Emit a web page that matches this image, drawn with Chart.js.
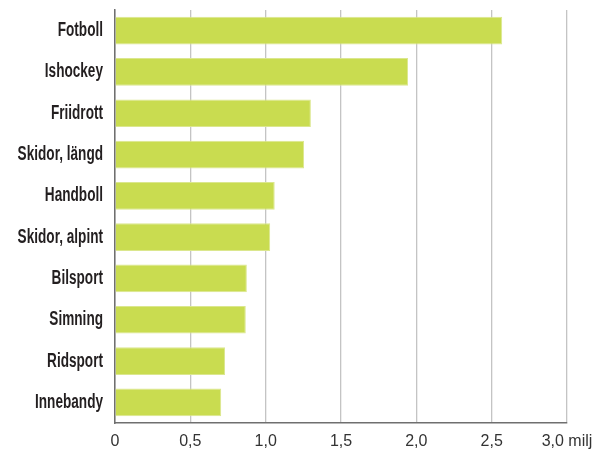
<!DOCTYPE html>
<html>
<head>
<meta charset="utf-8">
<script src="https://cdn.jsdelivr.net/npm/chart.js@4/dist/chart.umd.min.js"></script>
<style>
html,body{margin:0;padding:0;background:#fff;}
#wrap{width:600px;height:451px;}
</style>
</head>
<body>
<div id="wrap"><canvas id="c" width="600" height="451"></canvas></div>
<script>
const categories = ['Fotboll','Ishockey','Friidrott','Skidor, längd','Handboll','Skidor, alpint','Bilsport','Simning','Ridsport','Innebandy'];
const values = [2.57, 1.945, 1.30, 1.255, 1.06, 1.03, 0.875, 0.868, 0.73, 0.705];
const tickLabels = ['0','0,5','1,0','1,5','2,0','2,5','3,0 milj'];

// Draws the category labels of the y scale in a condensed style (no condensed font is installed)
const condensedLabels = {
  id: 'condensedLabels',
  afterDraw(chart) {
    const ctx = chart.ctx;
    const ys = chart.scales.y;
    const sx = 0.68;
    ctx.save();
    ctx.font = "bold 20px 'Liberation Sans', Arial, sans-serif";
    ctx.fillStyle = '#231f20';
    ctx.textAlign = 'right';
    ctx.textBaseline = 'alphabetic';
    chart.data.labels.forEach((lab, i) => {
      const y = ys.getPixelForTick(i);
      ctx.save();
      ctx.translate(ys.right - 12, y + 5.5);
      ctx.scale(sx, 1);
      ctx.fillText(lab, 0, 0);
      ctx.restore();
    });
    ctx.restore();
  }
};

new Chart(document.getElementById('c'), {
  type: 'bar',
  data: {
    labels: categories,
    datasets: [{
      data: values,
      backgroundColor: '#c9dc50',
      borderColor: '#dbe78e',
      borderWidth: 1,
      borderSkipped: 'start',
      barPercentage: 0.67,
      categoryPercentage: 1.0
    }]
  },
  plugins: [condensedLabels],
  options: {
    indexAxis: 'y',
    responsive: false,
    animation: false,
    layout: { padding: { left: 0, right: 33, top: 10, bottom: 0 } },
    plugins: { legend: { display: false }, tooltip: { enabled: false } },
    scales: {
      x: {
        min: 0, max: 3,
        ticks: {
          stepSize: 0.5,
          padding: 9,
          color: '#333',
          font: { family: "'Liberation Sans', Arial, sans-serif", size: 16 },
          maxRotation: 0,
          callback: (v, i) => tickLabels[i]
        },
        grid: { color: '#c4c4c4', lineWidth: 1.3, drawTicks: false },
        border: { display: true, color: '#6f6f6f', width: 1.5 },
        afterFit: s => { s.height = 28; s.paddingLeft = 0; s.paddingRight = 0; }
      },
      y: {
        ticks: { display: false },
        grid: { display: false, drawTicks: false },
        border: { display: true, color: '#6f6f6f', width: 1.5 },
        afterFit: s => { s.width = 115; s.paddingTop = 0; s.paddingBottom = 0; }
      }
    }
  }
});
</script>
</body>
</html>
